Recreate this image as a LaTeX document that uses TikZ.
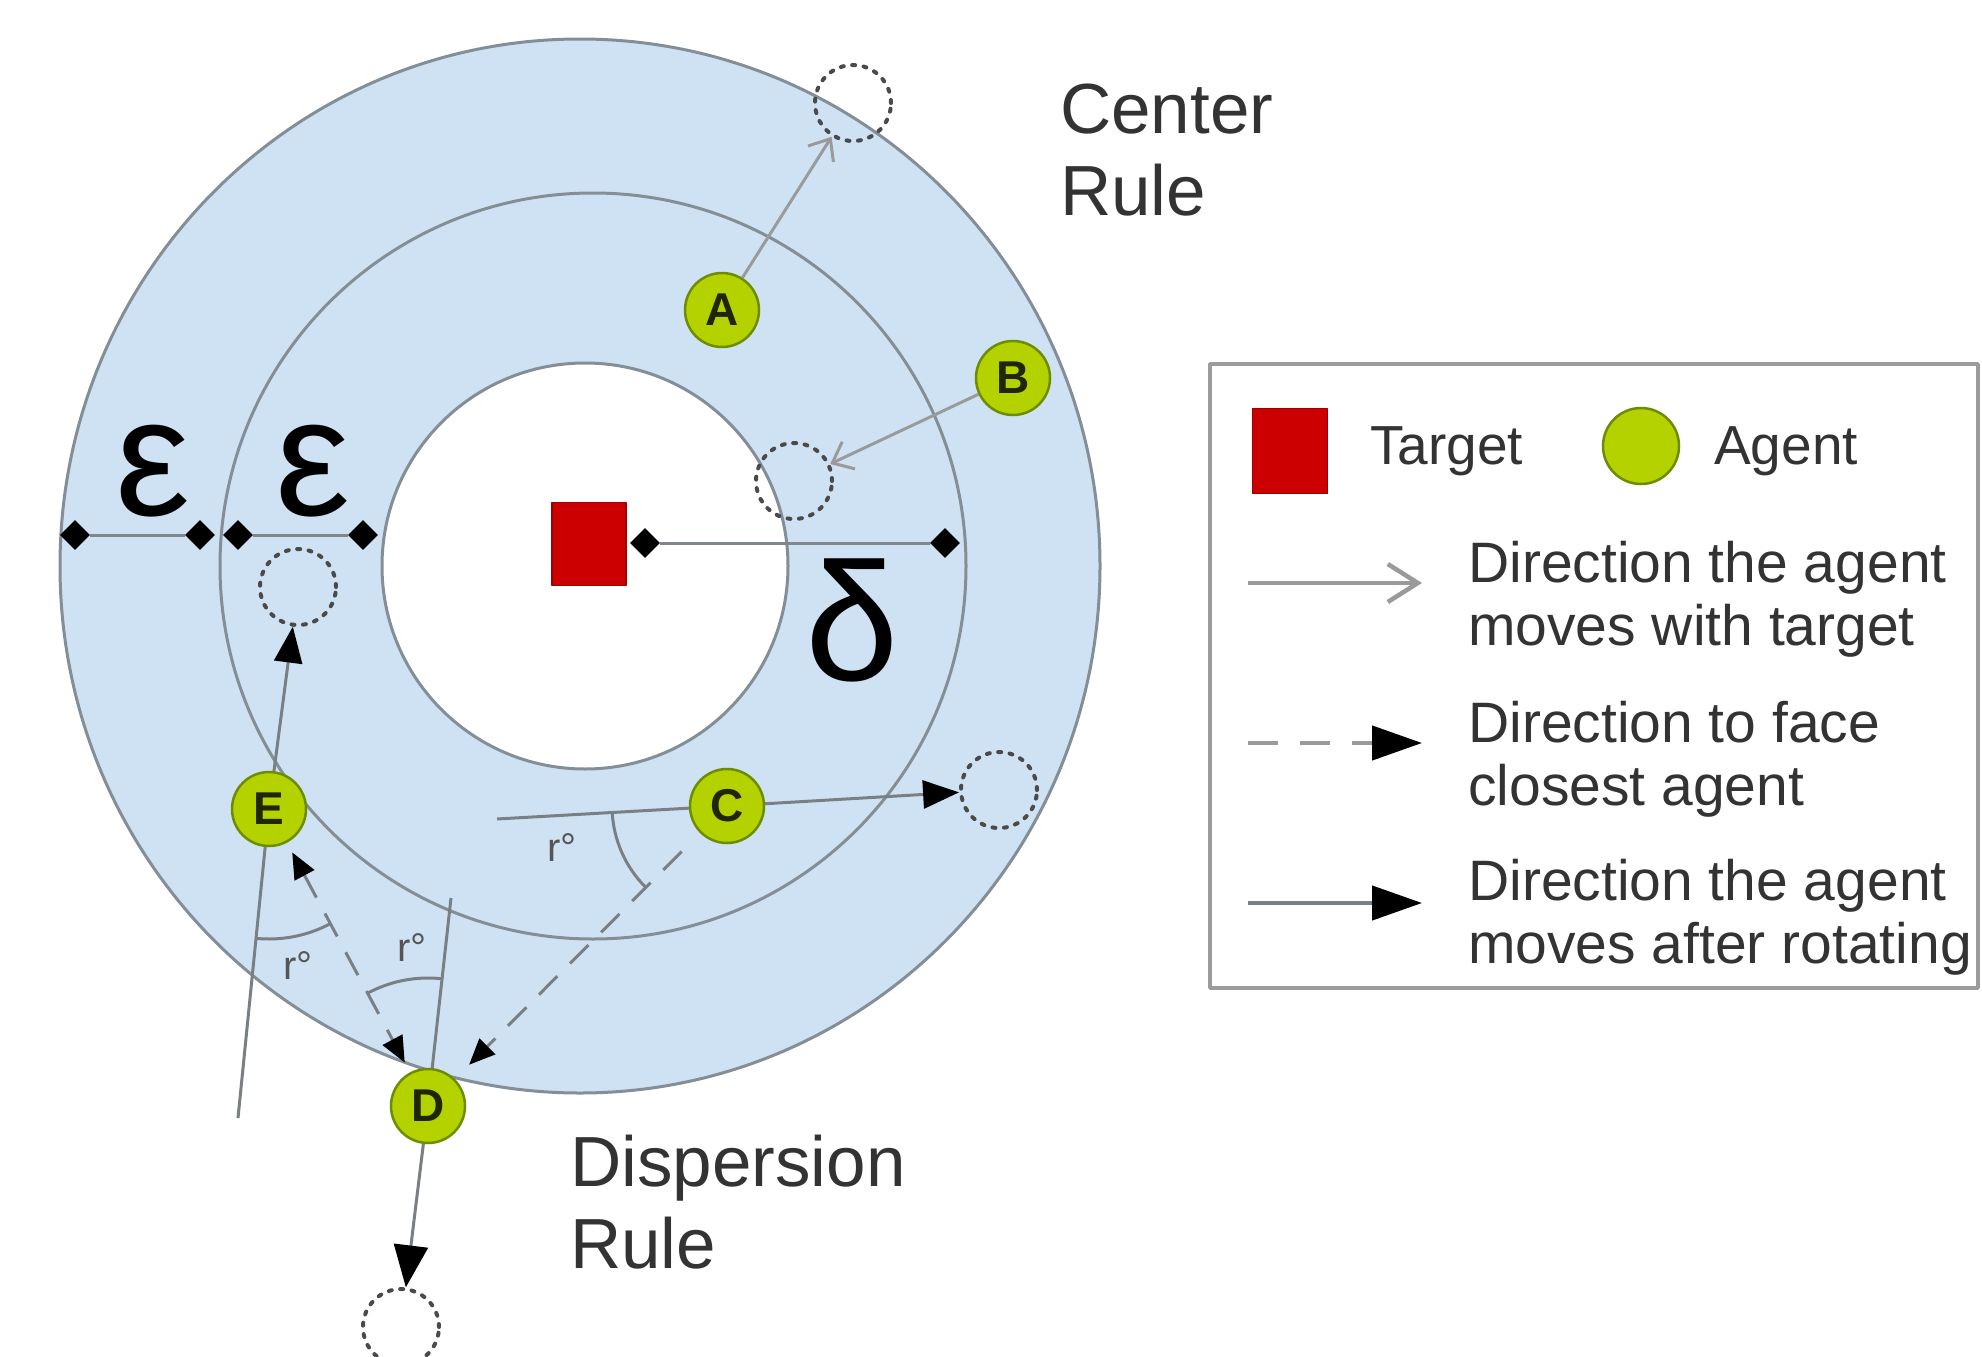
\documentclass[tikz,border=0pt]{standalone}
\usepackage{fontspec}
\setmainfont{Liberation Sans}
\usetikzlibrary{arrows.meta,shapes.geometric}

\definecolor{ringblue}{HTML}{CFE2F3}
\definecolor{ringline}{HTML}{848E96}
\definecolor{agentfill}{HTML}{B4D200}
\definecolor{agentline}{HTML}{6E8C00}
\definecolor{agenttext}{HTML}{1F2600}
\definecolor{targetred}{HTML}{CC0000}
\definecolor{targetline}{HTML}{A00000}
\definecolor{ghostgray}{HTML}{4A4A4A}
\definecolor{dimgray}{HTML}{7F868C}
\definecolor{lightline}{HTML}{9A9A9A}
\definecolor{darkline}{HTML}{7A7F84}
\definecolor{labelgray}{HTML}{555555}
\definecolor{textgray}{HTML}{333333}
\definecolor{boxline}{HTML}{9C9C9C}

\tikzset{
  facetip/.tip={Triangle[length=26pt,width=22pt,color=black]},
  rottip/.tip={Triangle[length=36pt,width=28pt,color=black]},
}

\begin{document}
\begin{tikzpicture}[x=1pt,y=-1pt,line join=round,
  ring/.style={draw=ringline,line width=3pt},
  agent/.style={circle,fill=agentfill,draw=agentline,line width=2.5pt,
    minimum size=74pt,inner sep=0pt,
    font=\fontsize{46}{46}\selectfont\bfseries,text=agenttext},
  ghost/.style={circle,draw=ghostgray,line width=4pt,line cap=round,
    dash pattern=on 3pt off 8.5pt,minimum size=76pt,inner sep=0pt},
  tick/.style={diamond,aspect=1,fill=black,minimum size=30pt,inner sep=0pt},
  dimline/.style={draw=dimgray,line width=3pt},
  greek/.style={font=\fontsize{168}{168}\selectfont,inner sep=0pt,anchor=base},
  movewith/.style={draw=lightline,line width=3pt,-{Straight Barb[length=18pt,width=30pt]}},
  rotmove/.style={draw=darkline,line width=3pt,-rottip},
  faceto/.style={draw=darkline,line width=3pt,dash pattern=on 26pt off 18pt},
  refline/.style={draw=darkline,line width=3pt},
  anglearc/.style={draw=darkline,line width=3pt},
  anglelabel/.style={font=\fontsize{40}{40}\selectfont,text=labelgray,inner sep=0pt},
  caption/.style={font=\fontsize{71}{82}\selectfont,text=textgray,align=left,
    anchor=base west,inner sep=0pt},
  legendtext/.style={font=\fontsize{57}{63}\selectfont,text=textgray,align=left,
    anchor=base west,inner sep=0pt},
  targetbox/.style={rectangle,fill=targetred,draw=targetline,line width=1.5pt,
    minimum width=74pt,minimum height=83pt,inner sep=0pt},
]
\fill[white] (0,0) rectangle (1982,1357);
\useasboundingbox (0,0) rectangle (1982,1357);

% rings around the target
\filldraw[ring,fill=ringblue] (580,566) ellipse[x radius=520,y radius=527];
\draw[ring] (593,566) circle[radius=373];
\filldraw[ring,fill=white] (585,566) circle[radius=203];

% target
\node[targetbox] (T) at (589,544) {};

% epsilon and delta distances
\node[tick] (e1a) at (75,535) {};
\node[tick] (e1b) at (200,535) {};
\node[tick] (e2a) at (238,535) {};
\node[tick] (e2b) at (363,535) {};
\node[tick] (dla) at (645,543) {};
\node[tick] (dlb) at (945,543) {};
\draw[dimline] (e1a) -- (e1b);
\draw[dimline] (e2a) -- (e2b);
\draw[dimline] (dla) -- (dlb);
\node[greek] (eps1) at (153,515) {ε};
\node[greek] (eps2) at (313,515) {ε};
\node[greek] (del) at (852,680) {δ};

% agents
\node[agent] (A) at (722,310) {A};
\node[agent] (B) at (1013,378) {B};
\node[agent] (C) at (727,806) {C};
\node[agent] (D) at (428,1106) {D};
\node[agent] (E) at (269,809) {E};

% positions after moving
\node[ghost] (gA) at (853,103) {};
\node[ghost] (gB) at (794,481) {};
\node[ghost] (gC) at (999,790) {};
\node[ghost] (gD) at (401,1327) {};
\node[ghost] (gE) at (298,587) {};

% center rule: moving with the target
\draw[movewith] (A) -- (gA);
\draw[movewith] (B) -- (gB);

% dispersion rule: facing the closest agent
\draw[faceto,facetip-facetip,shorten <=11pt,shorten >=11pt] (E) -- (D);
\draw[faceto,-facetip,shorten <=26pt,shorten >=20pt] (C) -- (D);

% heading lines before and after rotating
\coordinate (cL) at (497,819);
\coordinate (eL) at (238,1118);
\coordinate (dU) at (451,898);
\draw[refline] (cL) -- (C);
\draw[refline] (eL) -- (E);
\draw[refline] (dU) -- (D);
\draw[rotmove] (C) -- (gC);
\draw[rotmove] (E) -- (gE);
\draw[rotmove,-{Triangle[length=42pt,width=34pt,color=black]}] (D) -- (gD);

% rotation angles
\draw[anglearc] ([shift={(176.8:115)}]C.center) arc[start angle=176.8,end angle=135.1,radius=115];
\draw[anglearc] ([shift={(96:130)}]E.center) arc[start angle=96,end angle=62,radius=130];
\draw[anglearc] ([shift={(-84:128)}]D.center) arc[start angle=-84,end angle=-118,radius=128];
\node[anglelabel] (rC) at (562,848) {r°};
\node[anglelabel] (rE) at (298,966) {r°};
\node[anglelabel] (rD) at (412,948) {r°};

% rule captions (anchored on the baseline of their last line)
\node[caption] (crule) at (1060,215) {Center\\Rule};
\node[caption] (drule) at (570,1268) {Dispersion\\Rule};

% legend
\draw[draw=boxline,line width=3.5pt,fill=white] (1210,364) rectangle (1978,988);
\node[targetbox,minimum width=75pt,minimum height=85pt] (lgT) at (1290,451) {};
\node[legendtext,font=\fontsize{55}{63}\selectfont] (lgTt) at (1370,464) {Target};
\node[agent,minimum size=76pt] (lgA) at (1641,446) {};
\node[legendtext,font=\fontsize{55}{63}\selectfont] (lgAt) at (1714,464) {Agent};

\coordinate (l1a) at (1248,583);
\coordinate (l1b) at (1422,583);
\coordinate (l2a) at (1248,743);
\coordinate (l2b) at (1422,743);
\coordinate (l3a) at (1248,903);
\coordinate (l3b) at (1422,903);
\draw[draw=lightline,line width=4.5pt,-{Straight Barb[length=30pt,width=38pt]}] (l1a) -- (l1b);
\draw[draw=lightline,line width=4.5pt,dash pattern=on 30pt off 22pt,
  -{Triangle[length=50pt,width=34pt,color=black]}] (l2a) -- (l2b);
\draw[draw=darkline,line width=4.5pt,-{Triangle[length=50pt,width=34pt,color=black]}] (l3a) -- (l3b);

\node[legendtext] (lg1) at (1468,645) {Direction the agent\\moves with target};
\node[legendtext] (lg2) at (1468,805) {Direction to face\\closest agent};
\node[legendtext] (lg3) at (1468,963) {Direction the agent\\moves after rotating};
\end{tikzpicture}
\end{document}
